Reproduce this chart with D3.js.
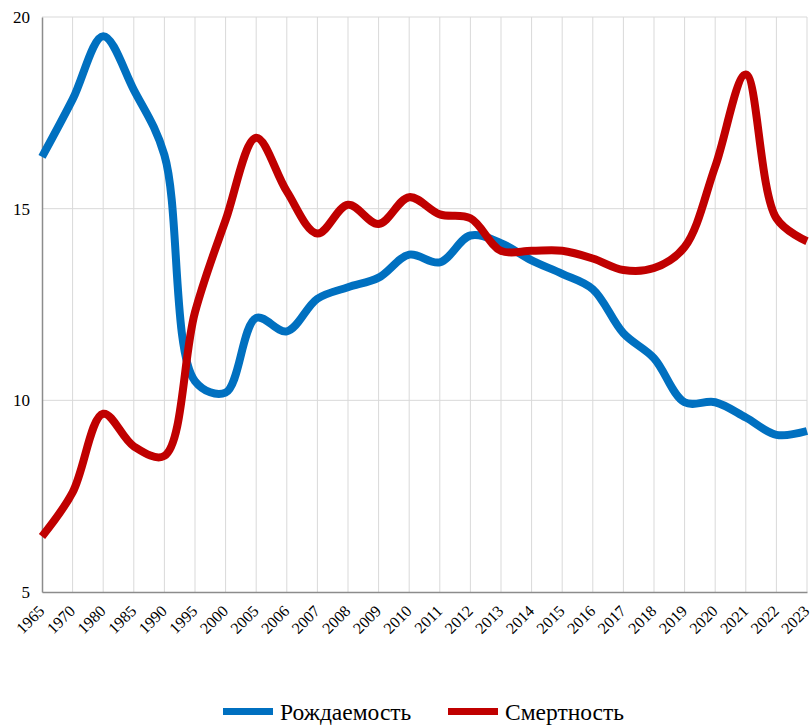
<!DOCTYPE html>
<html><head><meta charset="utf-8">
<script src="https://cdn.jsdelivr.net/npm/d3@7"></script>
<style>body{margin:0;background:#fff}</style>
</head><body>
<svg id="c" width="812" height="725"></svg>
<script>
const years = ["1965","1970","1980","1985","1990","1995","2000","2005","2006","2007","2008","2009","2010","2011","2012","2013","2014","2015","2016","2017","2018","2019","2020","2021","2022","2023"];
const births = [16.35,17.85,19.5,18.1,16.4,10.5,10.2,12.15,11.8,12.65,12.95,13.2,13.8,13.6,14.3,14.1,13.65,13.3,12.9,11.75,11.1,9.95,9.95,9.55,9.1,9.2];
const deaths = [6.45,7.6,9.65,8.8,8.55,12.3,14.7,16.85,15.45,14.35,15.1,14.6,15.3,14.85,14.75,13.9,13.9,13.9,13.7,13.4,13.45,14.0,16.1,18.5,14.75,14.15];
const yTicks = [5,10,15,20];
const seriesNames = ["Рождаемость","Смертность"];
const colors = ["#0070C0","#C00000"];

const svg = d3.select("#c");
const m = {l:42, r:807, t:17, b:592};
const x = d3.scalePoint().domain(years).range([m.l, m.r]);
const y = d3.scaleLinear().domain([5,20]).range([m.b, m.t]);

// gridlines
svg.append("g").selectAll("line").data(yTicks.slice(1)).join("line")
  .attr("x1", m.l).attr("x2", m.r).attr("y1", d=>y(d)).attr("y2", d=>y(d))
  .attr("stroke","#d9d9d9").attr("stroke-width",1);
svg.append("g").selectAll("line").data(years.slice(1)).join("line")
  .attr("x1", d=>x(d)).attr("x2", d=>x(d)).attr("y1", m.t).attr("y2", m.b)
  .attr("stroke","#d9d9d9").attr("stroke-width",1);

// axes
const yAxis = svg.append("g").attr("transform",`translate(${m.l},0)`)
  .call(d3.axisLeft(y).tickValues(yTicks).tickSize(0).tickPadding(12).tickFormat(d3.format("d")));
yAxis.select(".domain").attr("stroke","#8c8c8c").attr("stroke-width",1.5);
yAxis.selectAll("text").attr("font-family","'Liberation Serif', serif").attr("font-size",17).attr("fill","#000");

const xAxis = svg.append("g").attr("transform",`translate(0,${m.b})`)
  .call(d3.axisBottom(x).tickSize(0).tickPadding(0));
xAxis.select(".domain").attr("stroke","#8c8c8c").attr("stroke-width",1.5);
xAxis.selectAll("text")
  .attr("font-family","'Liberation Serif', serif").attr("font-size",16).attr("fill","#000")
  .attr("text-anchor","end").attr("dy",0).attr("y",0)
  .attr("transform","translate(3,20) rotate(-45)");

// lines
const line = d3.line().x((d,i)=>x(years[i])).y(d=>y(d)).curve(d3.curveCatmullRom.alpha(0.5));
[births, deaths].forEach((s,k)=>{
  svg.append("path").datum(s).attr("d", line).attr("fill","none")
    .attr("stroke", colors[k]).attr("stroke-width",8).attr("stroke-linejoin","round");
});

// legend
const lg = svg.append("g");
const lx = [223, 448];
seriesNames.forEach((n,k)=>{
  lg.append("rect").attr("x",lx[k]).attr("y",708).attr("width",50).attr("height",7).attr("fill",colors[k]);
  lg.append("text").attr("x",lx[k]+57).attr("y",720).text(n)
    .attr("font-family","'Liberation Serif', serif").attr("font-size",23.5).attr("fill","#000");
});
</script>
</body></html>
